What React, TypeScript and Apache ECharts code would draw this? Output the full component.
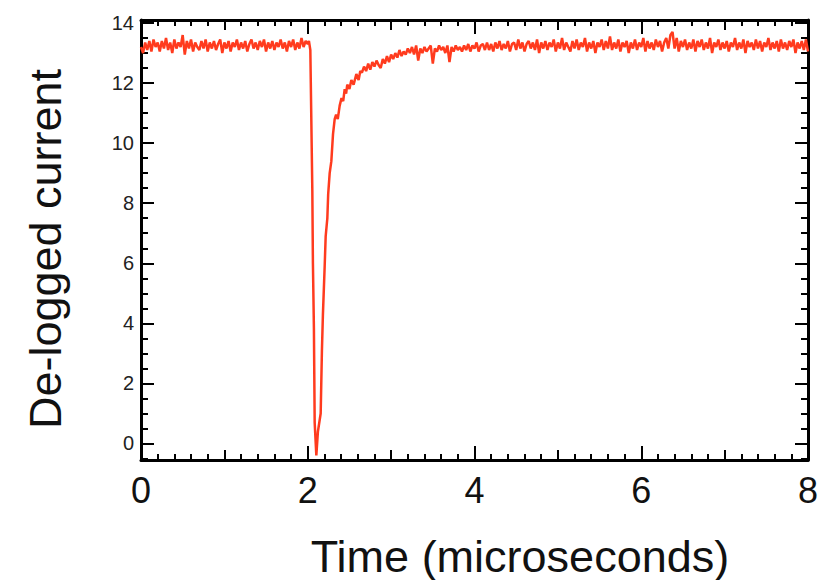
import React, { useEffect, useRef } from "react";
import * as echarts from "echarts";

// Time step (microseconds) of the sampled trace segments
const STEP = 0.025;
const POST_START = 2.65;

// De-logged current before the dip: t = 0 .. 2.0 µs
const preValues = [
  13.2, 13.0, 13.35, 13.1, 13.4, 13.05, 13.45, 13.2, 13.35, 13.05,
  13.4, 13.15, 13.5, 13.1, 13.35, 13.0, 13.45, 13.15, 13.35, 13.2,
  13.6, 12.95, 13.4, 13.15, 13.45, 13.05, 13.35, 13.2, 13.1, 13.4,
  13.15, 13.45, 13.05, 13.35, 13.15, 13.4, 13.1, 13.3, 13.45, 13.0,
  13.35, 13.15, 13.4, 13.05, 13.35, 13.2, 13.45, 13.1, 13.35, 13.15,
  13.4, 13.05, 13.3, 13.45, 13.15, 13.35, 13.1, 13.4, 13.2, 13.45,
  13.05, 13.35, 13.15, 13.4, 13.1, 13.35, 13.2, 13.45, 13.15, 13.35,
  13.05, 13.4, 13.2, 13.45, 13.1, 13.35, 13.15, 13.5, 13.2, 13.4,
  13.3,
];

// The dip and early recovery
const dipTimes = [
  2.014, 2.031, 2.055, 2.062, 2.074, 2.083, 2.103, 2.122, 2.155, 2.17,
  2.182, 2.203, 2.215, 2.235, 2.245, 2.263, 2.283, 2.303, 2.323, 2.34,
  2.36, 2.383, 2.405, 2.425, 2.443, 2.46, 2.474, 2.5, 2.523, 2.55,
  2.583, 2.61, 2.63,
];
const dipValues = [
  13.4, 13.1, 8.4, 6.0, 3.8, 0.7, -0.4, 0.4, 1.0, 3.1,
  4.3, 5.9, 6.9, 7.5, 8.3, 9.0, 9.4, 10.3, 10.8, 10.95,
  10.8, 11.25, 11.5, 11.4, 11.8, 11.65, 11.95, 11.8, 12.1, 11.95,
  12.3, 12.1, 12.4,
];

// Late recovery and plateau: t = 2.65 .. 8.0 µs
const postValues = [
  12.35, 12.55, 12.4, 12.65, 12.45, 12.7, 12.55, 12.75, 12.6, 12.5,
  12.8, 12.65, 12.9, 12.7, 12.95, 12.8, 13.0, 12.85, 13.1, 12.9,
  13.05, 12.95, 13.15, 13.0, 13.2, 12.95, 13.25, 12.75, 13.15, 13.0,
  13.2, 13.05, 13.15, 13.25, 12.65, 13.15, 13.05, 13.25, 13.1, 13.2,
  13.0, 13.25, 12.7, 13.2, 13.05, 13.25, 13.1, 13.2, 13.05, 13.25,
  13.1, 13.3, 13.05, 13.25, 13.15, 13.35, 13.05, 13.25, 13.3, 13.1,
  13.35, 13.1, 13.3, 13.05, 13.35, 13.15, 13.4, 13.1, 13.3, 13.15,
  13.4, 13.05, 13.3, 13.35, 13.1, 13.45, 13.15, 13.35, 13.05, 13.3,
  13.4, 13.15, 13.35, 13.1, 13.45, 13.0, 13.35, 13.15, 13.4, 13.1,
  13.35, 13.2, 13.45, 13.05, 13.35, 13.15, 13.5, 13.1, 13.35, 13.2,
  13.05, 13.4, 13.15, 13.45, 13.1, 13.35, 13.2, 13.5, 13.05, 13.35,
  13.15, 13.4, 13.0, 13.35, 13.2, 13.45, 13.1, 13.4, 13.15, 13.55,
  13.1, 13.35, 13.15, 13.45, 13.05, 13.35, 13.2, 13.4, 13.0, 13.35,
  13.15, 13.45, 13.1, 13.35, 13.2, 13.5, 13.05, 13.4, 13.15, 13.35,
  13.1, 13.45, 13.2, 13.4, 13.05, 13.35, 13.5, 13.15, 13.6, 13.7,
  13.15, 13.5, 13.05, 13.4, 13.2, 13.45, 13.1, 13.35, 13.15, 13.45,
  13.05, 13.4, 13.2, 13.45, 13.1, 13.35, 13.15, 13.5, 13.0, 13.35,
  13.2, 13.45, 13.1, 13.35, 13.15, 13.4, 13.05, 13.35, 13.2, 13.5,
  13.1, 13.35, 13.15, 13.45, 13.0, 13.4, 13.2, 13.35, 13.1, 13.45,
  13.15, 13.4, 13.05, 13.35, 13.2, 13.5, 13.1, 13.35, 13.15, 13.4,
  13.05, 13.45, 13.15, 13.35, 13.1, 13.4, 13.2, 13.45, 13.0, 13.35,
  13.15, 13.4, 13.1, 13.45, 13.05,
];

const yLabelValues = [0, 2, 4, 6, 8, 10, 12, 14];
const yMinorValues = [
  -0.5, 0.5, 1, 1.5, 2.5, 3, 3.5, 4.5, 5, 5.5, 6.5, 7, 7.5, 8.5, 9, 9.5,
  10.5, 11, 11.5, 12.5, 13, 13.5,
];

const X_MIN = 0;
const X_MAX = 8;
const Y_MIN = -0.55;
const Y_MAX = 14.1;

const FONT = "Liberation Sans";
const LINE_COLOR = "#ff3b1e";

export default function App() {
  const ref = useRef<HTMLDivElement>(null);

  useEffect(() => {
    document.body.style.margin = "0";
    if (!ref.current) return;
    const chart = echarts.init(ref.current, null, { renderer: "svg" });

    const data: [number, number][] = [];
    preValues.forEach((v, i) => data.push([+(i * STEP).toFixed(4), v]));
    dipTimes.forEach((t, i) => data.push([t, dipValues[i]]));
    postValues.forEach((v, i) =>
      data.push([+(POST_START + i * STEP).toFixed(4), v])
    );

    const spine = {
      show: true,
      onZero: false,
      lineStyle: { color: "#000", width: 3 },
    };
    const noLine = { show: false, onZero: false };

    const xAx = (
      position: "top" | "bottom",
      interval: number,
      len: number,
      withLine: boolean,
      withLabel: boolean
    ) => ({
      type: "value",
      position,
      min: X_MIN,
      max: X_MAX,
      interval,
      axisLine: withLine ? spine : noLine,
      splitLine: { show: false },
      axisTick: {
        show: true,
        inside: true,
        length: len,
        lineStyle: { color: "#000", width: 2 },
      },
      axisLabel: withLabel
        ? {
            show: true,
            fontFamily: FONT,
            fontSize: 36,
            color: "#111",
            margin: 12,
          }
        : { show: false },
    });

    const yAx = (
      position: "left" | "right",
      ticks: number[],
      len: number,
      withLine: boolean,
      withLabel: boolean
    ) => ({
      type: "value",
      position,
      min: Y_MIN,
      max: Y_MAX,
      axisLine: withLine ? spine : noLine,
      splitLine: { show: false },
      axisTick: {
        show: true,
        inside: true,
        length: len,
        customValues: ticks,
        lineStyle: { color: "#000", width: 2 },
      },
      axisLabel: withLabel
        ? {
            show: true,
            customValues: yLabelValues,
            fontFamily: FONT,
            fontSize: 20,
            color: "#222",
            margin: 7,
          }
        : { show: false, customValues: yLabelValues },
    });

    chart.setOption({
      animation: false,
      backgroundColor: "#fff",
      grid: { left: 141, right: 15, top: 20, bottom: 120, containLabel: false },
      xAxis: [
        xAx("bottom", 2, 14, true, true),
        xAx("bottom", 1, 10, false, false),
        xAx("bottom", 0.2, 6, false, false),
        xAx("top", 2, 14, true, false),
        xAx("top", 1, 10, false, false),
        xAx("top", 0.2, 6, false, false),
      ],
      yAxis: [
        yAx("left", yLabelValues, 13, true, true),
        yAx("left", yMinorValues, 7, false, false),
        yAx("right", yLabelValues, 13, true, false),
        yAx("right", yMinorValues, 7, false, false),
      ],
      series: [
        {
          type: "line",
          xAxisIndex: 0,
          yAxisIndex: 0,
          data,
          showSymbol: false,
          symbol: "none",
          lineStyle: { color: LINE_COLOR, width: 2.5 },
          z: 1,
        },
      ],
      graphic: [
        {
          type: "text",
          x: 45,
          y: 249,
          rotation: Math.PI / 2,
          style: {
            text: "De-logged current",
            fontFamily: FONT,
            fontSize: 45,
            fill: "#111",
            align: "center",
            verticalAlign: "middle",
          },
        },
        {
          type: "text",
          x: 520,
          y: 556,
          style: {
            text: "Time (microseconds)",
            fontFamily: FONT,
            fontSize: 45,
            fill: "#111",
            align: "center",
            verticalAlign: "middle",
          },
        },
      ],
    });

    return () => chart.dispose();
  }, []);

  return <div ref={ref} style={{ width: 823, height: 580 }} />;
}
